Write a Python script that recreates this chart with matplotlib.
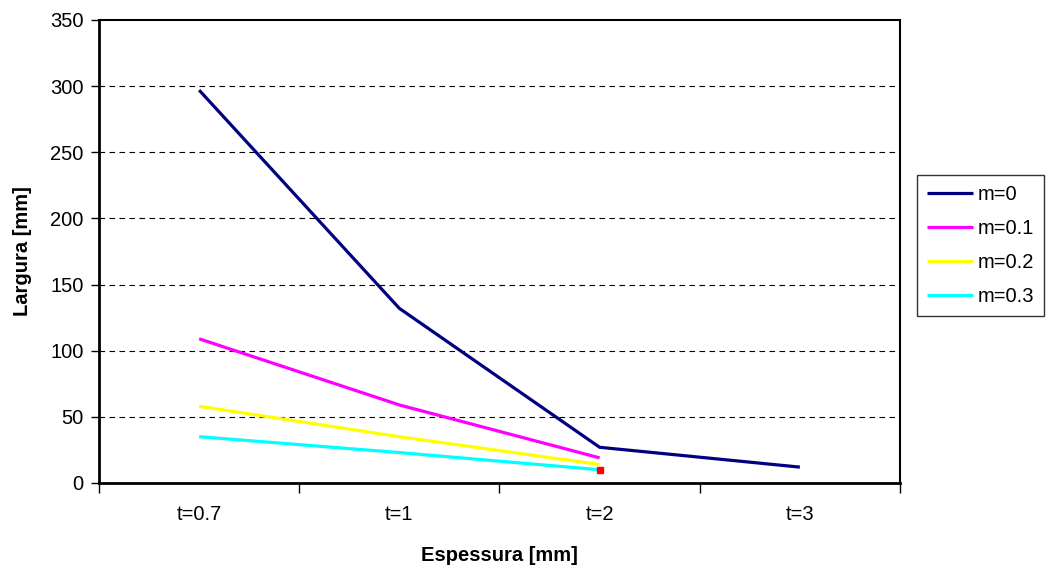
import matplotlib
matplotlib.use("Agg")
import matplotlib.pyplot as plt

# 数据
categorias = ["t=0.7", "t=1", "t=2", "t=3"]
m0 = [297, 132, 27, 12]
m01 = [109, 59, 19]
m02 = [58, 35, 14]
m03 = [35, 23, 10]
series = [
    ("m=0", m0, "#000080"),
    ("m=0.1", m01, "#FF00FF"),
    ("m=0.2", m02, "#FFFF00"),
    ("m=0.3", m03, "#00FFFF"),
]
y_ticks = [0, 50, 100, 150, 200, 250, 300, 350]

plt.rcParams["font.family"] = ["Liberation Sans", "DejaVu Sans"]

fig = plt.figure(figsize=(10.55, 5.72), dpi=100)
ax = fig.add_axes([99 / 1055, 1 - 483 / 572, (900 - 99) / 1055, (483 - 20) / 572])

x = list(range(len(categorias)))
for nome, valores, cor in series:
    ax.plot(x[:len(valores)], valores, color=cor, lw=2.3, label=nome,
            solid_capstyle="butt", zorder=3)

# 红色小方块标记
ax.plot([2], [m03[2]], marker="s", color="#FF0000", ms=5, ls="none", zorder=4)

ax.set_xlim(-0.5, 3.5)
ax.set_ylim(0, 350)
ax.set_yticks(y_ticks)
ax.set_xticks([i - 0.5 for i in range(len(categorias) + 1)])
ax.set_xticklabels([])
ax.set_xticks(x, minor=True)
ax.set_xticklabels(categorias, minor=True, fontsize=14.5)
ax.tick_params(axis="x", which="minor", length=0, pad=16)
ax.tick_params(axis="x", which="major", direction="out", length=7, width=1)
ax.tick_params(axis="y", direction="out", length=6, width=1, labelsize=14.5, pad=5)

for y in y_ticks[1:-1]:
    ax.axhline(y, color="black", lw=0.8, ls=(0, (5, 4)), zorder=1)

for lado in ["left", "bottom"]:
    ax.spines[lado].set_linewidth(2)
for lado in ["top", "right"]:
    ax.spines[lado].set_linewidth(1.5)

ax.set_xlabel("Espessura [mm]", fontsize=14.5, fontweight="bold", labelpad=16)
ax.set_ylabel("Largura [mm]", fontsize=14.5, fontweight="bold", labelpad=13)

leg = ax.legend(loc="upper left", bbox_to_anchor=(917 / 1055, 1 - 175 / 572),
                bbox_transform=fig.transFigure, fontsize=14.5, frameon=True,
                fancybox=False, edgecolor="black", handlelength=2.3,
                handletextpad=0.2, borderpad=0.5, labelspacing=0.75,
                borderaxespad=0)
leg.get_frame().set_linewidth(1)

fig.savefig("out.png", dpi=100)
